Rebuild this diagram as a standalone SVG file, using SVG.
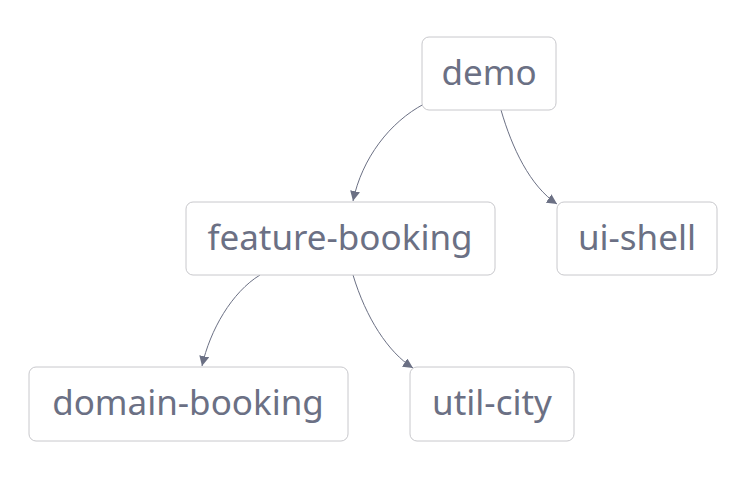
<svg xmlns="http://www.w3.org/2000/svg" width="753" height="480" viewBox="0 0 753 480">
<style>
.box{fill:#ffffff;stroke:#c8c8cc;stroke-width:1}
.lbl{font-family:"Noto Sans","Open Sans",sans-serif;font-size:35px;fill:#6b7084;text-anchor:middle;dominant-baseline:central}
.edge{fill:none;stroke:#6b7084;stroke-width:1}
</style>
<defs>
<marker id="arr" viewBox="0 0 10 10" refX="10" refY="5" markerWidth="10" markerHeight="10" markerUnits="userSpaceOnUse" orient="auto">
<path d="M0,0 L10,5 L0,10 z" fill="#6b7084"/>
</marker>
</defs>
<rect width="753" height="480" fill="#ffffff"/>
<g id="connectors">
<path class="edge" marker-end="url(#arr)" d="M424,104 C390,122 362,158 353,201"/>
<path class="edge" marker-end="url(#arr)" d="M501,110 C512,148 530,186 557,204"/>
<path class="edge" marker-end="url(#arr)" d="M260,275 C232,292 210,330 202,366"/>
<path class="edge" marker-end="url(#arr)" d="M353,275 C366,318 388,352 413,368"/>
</g>
<g id="demo"><rect class="box" x="422" y="37" width="134" height="73" rx="7"/><text class="lbl" x="489" y="71">demo</text></g>
<g id="feature-booking"><rect class="box" x="186" y="202" width="309" height="73" rx="7"/><text class="lbl" x="340" y="236">feature-booking</text></g>
<g id="ui-shell"><rect class="box" x="557" y="202" width="160" height="73" rx="7"/><text class="lbl" x="637" y="236">ui-shell</text></g>
<g id="domain-booking"><rect class="box" x="29" y="367" width="319" height="74" rx="7"/><text class="lbl" x="188" y="401">domain-booking</text></g>
<g id="util-city"><rect class="box" x="410" y="367" width="164" height="74" rx="7"/><text class="lbl" x="492" y="401">util-city</text></g>
</svg>
